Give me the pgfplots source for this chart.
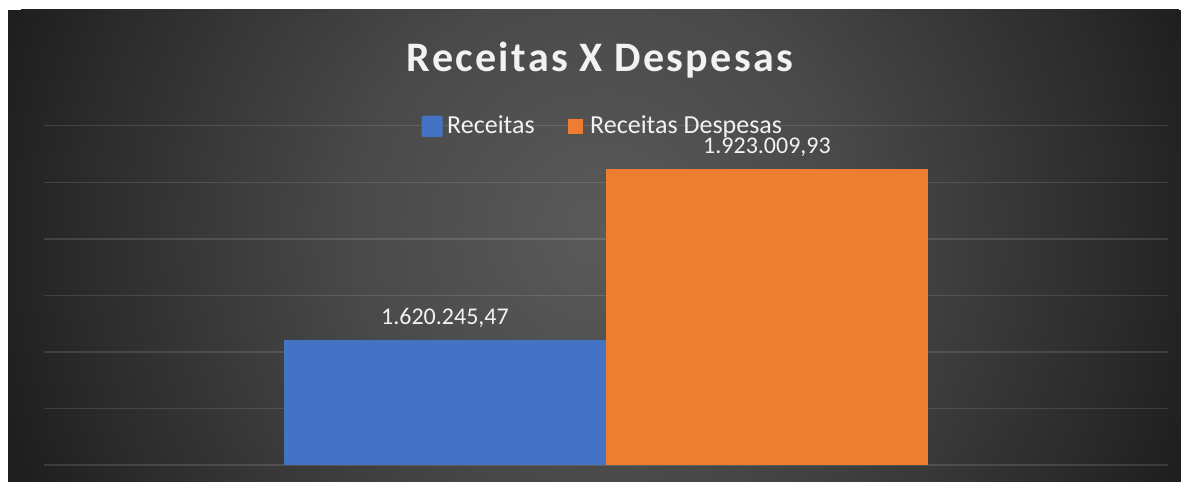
\documentclass[border=0pt]{standalone}
\usepackage{pgfplots}
\pgfplotsset{compat=1.18}
\usepackage{fontspec}
\setmainfont{Carlito}
\newfontfamily\titlefont[LetterSpace=5.5]{Carlito}
\definecolor{barblue}{HTML}{4472C4}
\definecolor{barorange}{HTML}{ED7D31}
\definecolor{bgin}{HTML}{5A5A5A}
\definecolor{bgmid}{HTML}{494949}
\definecolor{bgmid2}{HTML}{2B2B2B}
\definecolor{bgout}{HTML}{1F1F1F}
\definecolor{txt}{HTML}{F2F2F2}
\pgfdeclareradialshading{bgshade}{\pgfpoint{0bp}{0bp}}{color(0bp)=(bgin); color(10bp)=(bgmid); color(21bp)=(bgmid2); color(25bp)=(bgout); color(50bp)=(bgout)}
\begin{document}
\begin{tikzpicture}[x=1pt,y=1pt]
\fill[white] (0,0) rectangle (1181,482);
\begin{scope}
\clip (8,0) rectangle (1181,472);
\fill[bgout] (8,0) rectangle (1181,472);
\shade[shading=bgshade] (600,250) circle (620);
\end{scope}
\begin{axis}[
  at={(44pt,17pt)}, anchor=south west,
  scale only axis, width=1124pt, height=339.3pt,
  xmin=-0.5, xmax=0.5,
  ymin=1400000, ymax=2000000,
  ytick={1400000,1500000,1600000,1700000,1800000,1900000,2000000},
  scaled y ticks=false,
  xtick=\empty, yticklabels={},
  axis line style={draw=none},
  major tick length=0pt,
  ymajorgrids,
  major grid style={white, opacity=0.12, line width=1.4pt},
  ybar=0pt, bar width=0.2865,
  point meta=explicit symbolic,
  nodes near coords,
  nodes near coords style={anchor=base, yshift=16pt, font=\fontsize{24}{28}\selectfont, text=txt, inner sep=0pt},
  clip=false,
]
\addplot[fill=barblue, draw=none] coordinates {(0,1620245.47) [1.620.245,47]};
\addplot[fill=barorange, draw=none] coordinates {(0,1923009.93) [1.923.009,93]};
\end{axis}
\node[anchor=base, inner sep=0pt, text=txt] at (600,410) {\titlefont\bfseries\fontsize{42}{50}\selectfont Receitas X Despesas};
\fill[barblue, rounded corners=2pt] (421.7,345) rectangle (442.7,366.3);
\node[anchor=base west, inner sep=0pt, text=txt, font=\fontsize{26}{30}\selectfont] at (447,348.7) {Receitas};
\fill[barorange] (568,348.3) rectangle (582.7,363);
\node[anchor=base west, inner sep=0pt, text=txt, font=\fontsize{26}{30}\selectfont] at (590,348.7) {Receitas Despesas};
\end{tikzpicture}
\end{document}
